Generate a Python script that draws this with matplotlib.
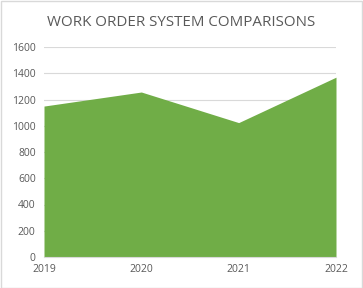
import matplotlib
matplotlib.use("Agg")
import matplotlib.pyplot as plt
from matplotlib.patches import Rectangle

years = ["2019", "2020", "2021", "2022"]
values = [1150, 1257, 1024, 1370]
yticks = [0, 200, 400, 600, 800, 1000, 1200, 1400, 1600]

plt.rcParams['font.family'] = ['Open Sans', 'DejaVu Sans']

W, H = 363, 288
fig = plt.figure(figsize=(W/100, H/100), dpi=100)
ax = fig.add_axes([44/W, (H-257)/H, (336-44)/W, (257-47)/H])

x = list(range(len(years)))
ax.fill_between(x, values, 0, color="#70AD47", linewidth=0, zorder=2)
ax.set_xlim(0, len(years)-1)
ax.set_ylim(0, 1600)
ax.set_yticks(yticks)
ax.set_yticklabels([str(v) for v in yticks])
ax.set_xticks(x)
ax.set_xticklabels(years)
ax.grid(axis='y', color='#D9D9D9', linewidth=0.8, zorder=0)
for s in ['top', 'right', 'left']:
    ax.spines[s].set_visible(False)
ax.spines['bottom'].set_color('#D9D9D9')
ax.tick_params(axis='both', length=0, colors='#595959', labelsize=7.5)
ax.tick_params(axis='x', pad=5)
ax.tick_params(axis='y', pad=6)

fig.text(0.5, (H-22)/H, "WORK ORDER SYSTEM COMPARISONS", ha='center', va='center',
         fontsize=10.9, color='#595959')
fig.patches.append(Rectangle((0.5/W, 0.5/H), (W-1.5)/W, (H-1.5)/H, transform=fig.transFigure,
                             fill=False, edgecolor='#D9D9D9', linewidth=1))
fig.savefig("out.png", dpi=100)
